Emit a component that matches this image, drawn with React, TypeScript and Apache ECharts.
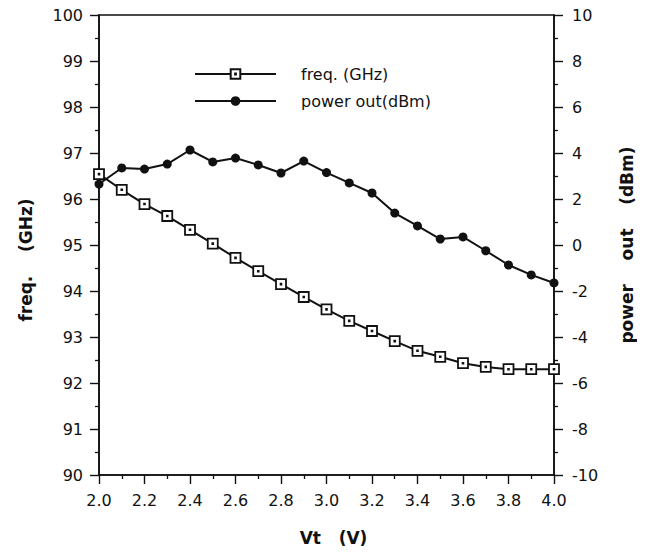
import React, { useEffect, useRef } from "react";
import * as echarts from "echarts";

const vt = [2.0, 2.1, 2.2, 2.3, 2.4, 2.5, 2.6, 2.7, 2.8, 2.9, 3.0, 3.1, 3.2, 3.3, 3.4, 3.5, 3.6, 3.7, 3.8, 3.9, 4.0];
const freqGHz = [96.54, 96.2, 95.89, 95.63, 95.33, 95.03, 94.72, 94.43, 94.15, 93.87, 93.6, 93.35, 93.13, 92.91, 92.7, 92.57, 92.43, 92.35, 92.3, 92.3, 92.3];
const powerDBm = [2.65, 3.35, 3.3, 3.52, 4.13, 3.61, 3.78, 3.48, 3.13, 3.65, 3.15, 2.7, 2.26, 1.39, 0.83, 0.26, 0.35, -0.25, -0.87, -1.3, -1.65];
const seriesNames = ["freq. (GHz)", "power out(dBm)"];

const ink = "#111";
const font = "'DejaVu Sans', 'Liberation Sans', sans-serif";

export default function App() {
  const ref = useRef<HTMLDivElement>(null);
  useEffect(() => {
    if (!ref.current) return;
    const chart = echarts.init(ref.current, undefined, { renderer: "svg" });
    const axisCommon = {
      axisLine: { show: true, onZero: false, lineStyle: { color: ink, width: 1.6 } },
      axisTick: { show: true, length: 9, lineStyle: { color: ink, width: 1.4 } },
      minorTick: { show: true, splitNumber: 2, length: 4, lineStyle: { color: ink, width: 1.3 } },
      splitLine: { show: false },
      axisLabel: { color: ink, fontSize: 16, fontFamily: font },
      nameTextStyle: { color: ink, fontSize: 17, fontWeight: "bold", fontFamily: font },
    };
    chart.setOption({
      animation: false,
      backgroundColor: "#fff",
      grid: { left: 99, right: 91, top: 15, bottom: 79, show: true, borderColor: ink, borderWidth: 1.6 },
      legend: {
        data: seriesNames,
        orient: "vertical",
        left: 189,
        top: 61,
        itemWidth: 81,
        itemHeight: 12,
        itemGap: 11,
        textStyle: { color: ink, fontSize: 16, fontFamily: font, padding: [0, 0, 0, 20] },
      },
      xAxis: {
        type: "value",
        min: 2.0,
        max: 4.0,
        interval: 0.2,
        name: "Vt   (V)",
        nameLocation: "middle",
        nameGap: 54,
        ...axisCommon,
        nameTextStyle: { ...axisCommon.nameTextStyle, padding: [0, 0, 0, 14] },
        axisLabel: { ...axisCommon.axisLabel, margin: 17, formatter: (v: number) => v.toFixed(1) },
      },
      yAxis: [
        {
          type: "value",
          min: 90,
          max: 100,
          interval: 1,
          position: "left",
          name: "freq.    (GHz)",
          nameLocation: "middle",
          nameRotate: 90,
          nameGap: 65,
          ...axisCommon,
          nameTextStyle: { ...axisCommon.nameTextStyle, padding: [0, 30, 0, 0] },
          axisLabel: { ...axisCommon.axisLabel, margin: 16 },
        },
        {
          type: "value",
          min: -10,
          max: 10,
          interval: 2,
          position: "right",
          name: "power    out    (dBm)",
          nameLocation: "middle",
          nameRotate: 90,
          nameGap: 64,
          ...axisCommon,
          axisLabel: { ...axisCommon.axisLabel, margin: 18 },
        },
      ],
      series: [
        {
          name: seriesNames[0],
          type: "line",
          yAxisIndex: 0,
          data: vt.map((x, i) => [x, freqGHz[i]]),
          symbol: "path://M0,0H10V10H0Z M4.6,4.6H5.4V5.4H4.6Z",
          symbolSize: 10,
          showAllSymbol: true,
          lineStyle: { color: ink, width: 2 },
          itemStyle: { color: "#fff", borderColor: ink, borderWidth: 1.8 },
          z: 3,
        },
        {
          name: seriesNames[1],
          type: "line",
          yAxisIndex: 1,
          data: vt.map((x, i) => [x, powerDBm[i]]),
          symbol: "circle",
          symbolSize: 9,
          showAllSymbol: true,
          lineStyle: { color: ink, width: 2 },
          itemStyle: { color: ink, borderColor: ink, borderWidth: 0 },
          z: 2,
        },
      ],
    });
    return () => chart.dispose();
  }, []);
  return <div ref={ref} style={{ width: 645, height: 554, margin: -8 }} />;
}
